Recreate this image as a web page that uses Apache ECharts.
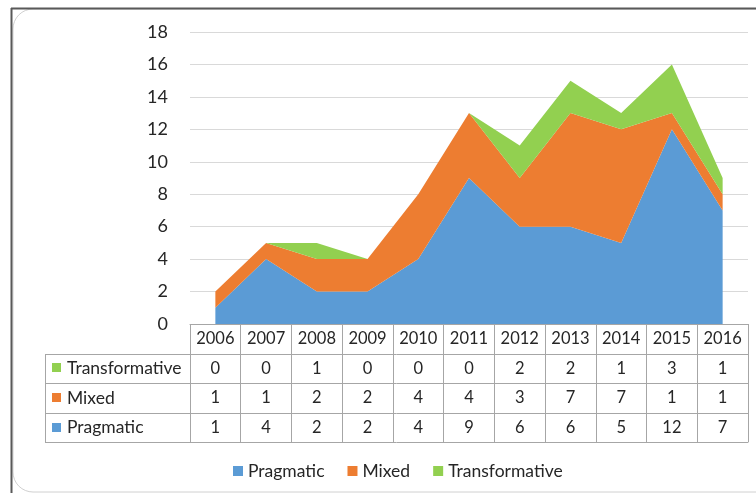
<!DOCTYPE html>
<html>
<head>
<meta charset="utf-8">
<script src="https://cdn.jsdelivr.net/npm/echarts@6/dist/echarts.min.js"></script>
<style>
html,body{margin:0;padding:0;background:#fff;}
#chart{width:756px;height:493px;}
</style>
</head>
<body>
<div id="chart"></div>
<script>
const years = ['2006','2007','2008','2009','2010','2011','2012','2013','2014','2015','2016'];
const pragmatic = [1,4,2,2,4,9,6,6,5,12,7];
const mixed = [1,1,2,2,4,4,3,7,7,1,1];
const transformative = [0,0,1,0,0,0,2,2,1,3,1];
const seriesNames = ['Pragmatic','Mixed','Transformative'];
const colors = ['#5B9BD5','#ED7D31','#92D050'];
const yMin = 0, yMax = 18, yStep = 2;

const FONT = 'Lato';
const TXT = '#262626';
const LINE = '#A6A6A6';

const chart = echarts.init(document.getElementById('chart'));

const gridLeft = 190, gridRight = 8, gridTop = 32, gridBottom = 169;
const axisY = 493 - gridBottom;            // 324
const rowH = 29.6;
const headerBottom = axisY + rowH;
const rowCenters = [0,1,2,3].map(i => axisY + rowH * (i + 0.5));
const tableBottom = axisY + rowH * 4;
const tableLeft = 45;
const tableRight = 756 - gridRight;

function valueAxis(arr, idx) {
  return {
    type: 'category', data: years, gridIndex: 0, position: 'bottom',
    boundaryGap: true,
    axisLine: {show: false}, axisTick: {show: false}, splitLine: {show: false},
    axisLabel: {
      show: true, interval: 0, margin: rowCenters[idx] - axisY,
      verticalAlign: 'middle', fontFamily: FONT, fontSize: 16.5, color: TXT,
      formatter: (v, i) => String(arr[i])
    }
  };
}

const rowNames = ['Transformative','Mixed','Pragmatic'];
const rowColors = [colors[2], colors[1], colors[0]];

const graphic = [];
graphic.push({type:'rect', z:-10, shape:{x:13, y:9, width:770, height:483, r:20}, style:{fill:'none', stroke:'#D0D0D0', lineWidth:1}, silent:true});
graphic.push({type:'line', z:-9, shape:{x1:11, y1:8.5, x2:756, y2:8.5}, style:{stroke:'#595959', lineWidth:2}, silent:true});
graphic.push({type:'line', z:-9, shape:{x1:11.5, y1:8, x2:11.5, y2:493}, style:{stroke:'#595959', lineWidth:2}, silent:true});
[headerBottom, headerBottom + rowH, headerBottom + 2*rowH, tableBottom].forEach(y => {
  const yy = Math.round(y) + 0.5;
  graphic.push({type:'line', shape:{x1:tableLeft, y1:yy, x2:tableRight, y2:yy}, style:{stroke:LINE, lineWidth:1}, silent:true});
});
graphic.push({type:'line', shape:{x1:tableLeft + 0.5, y1:Math.round(headerBottom), x2:tableLeft + 0.5, y2:Math.round(tableBottom)+1}, style:{stroke:LINE, lineWidth:1}, silent:true});
rowNames.forEach((n, i) => {
  const cy = rowCenters[i + 1];
  graphic.push({type:'rect', shape:{x:52, y:Math.round(cy) - 5, width:9, height:9}, style:{fill:rowColors[i]}, silent:true});
  graphic.push({type:'text', x:67, y:cy, style:{text:n, fontFamily:FONT, fontSize:17.5, fill:TXT, verticalAlign:'middle', align:'left'}, silent:true});
});

const option = {
  animation: false,
  backgroundColor: '#fff',
  color: colors,
  grid: {left: gridLeft, right: gridRight, top: gridTop, bottom: gridBottom},
  legend: {
    data: seriesNames, left: 228, top: 457, itemWidth: 10, itemHeight: 10, itemGap: 23,
    icon: 'rect', textStyle: {fontFamily: FONT, fontSize: 17.5, color: TXT}
  },
  xAxis: [
    {
      type: 'category', data: years, boundaryGap: true, position: 'bottom',
      axisLine: {show: true, lineStyle: {color: LINE, width: 1}},
      axisTick: {show: true, length: tableBottom - axisY, interval: 0, lineStyle: {color: LINE, width: 1}},
      axisLabel: {show: true, interval: 0, margin: rowCenters[0] - axisY, verticalAlign: 'middle', fontFamily: FONT, fontSize: 16.5, color: TXT},
      splitLine: {show: false}
    },
    valueAxis(transformative, 1),
    valueAxis(mixed, 2),
    valueAxis(pragmatic, 3)
  ],
  yAxis: {
    type: 'value', min: yMin, max: yMax, interval: yStep,
    axisLine: {show: false}, axisTick: {show: false},
    axisLabel: {margin: 22, fontFamily: FONT, fontSize: 18, color: TXT},
    splitLine: {lineStyle: {color: '#D9D9D9', width: 1}}
  },
  series: [pragmatic, mixed, transformative].map((d, i) => ({
    name: seriesNames[i], type: 'line', stack: 'total', data: d,
    symbol: 'none', lineStyle: {width: 0}, areaStyle: {color: colors[i], opacity: 1},
    itemStyle: {color: colors[i]}, z: 2
  })),
  graphic: graphic
};
chart.setOption(option);
</script>
</body>
</html>
